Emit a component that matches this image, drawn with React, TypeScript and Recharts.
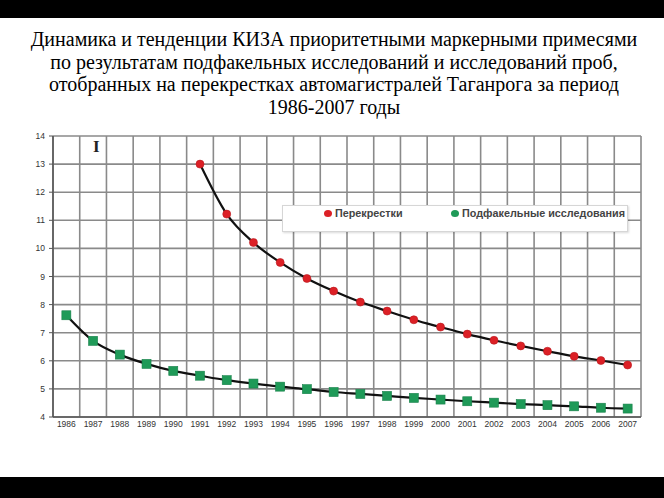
import { LineChart, Line, XAxis, YAxis, CartesianGrid, Legend } from 'recharts';

const years = [
  1986, 1987, 1988, 1989, 1990, 1991, 1992, 1993, 1994, 1995, 1996,
  1997, 1998, 1999, 2000, 2001, 2002, 2003, 2004, 2005, 2006, 2007,
];

// Перекрестки (no samples before 1991)
const crossroads = [
  null, null, null, null, null, 13.0, 11.22, 10.21, 9.5, 8.93, 8.48,
  8.09, 7.77, 7.46, 7.2, 6.95, 6.73, 6.53, 6.34, 6.16, 6.01, 5.85,
];

// Подфакельные исследования
const plume = [
  7.62, 6.71, 6.22, 5.89, 5.64, 5.47, 5.31, 5.19, 5.08, 4.99, 4.89,
  4.82, 4.75, 4.68, 4.62, 4.56, 4.51, 4.46, 4.42, 4.38, 4.33, 4.3,
];

const yTicks = [4, 5, 6, 7, 8, 9, 10, 11, 12, 13, 14];

const TITLE = [
  'Динамика и тенденции КИЗА приоритетными маркерными примесями',
  'по результатам подфакельных исследований и исследований проб,',
  'отобранных на перекрестках автомагистралей Таганрога за период',
  '1986-2007 годы',
];

const RED = '#dc2026';
const GREEN = '#1f9a58';
const GRID = '#8a8a8a';

const data = years.map((year, i) => ({
  year,
  crossroads: crossroads[i],
  plume: plume[i],
}));

// grid lines sit on the borders between years
const gridTicks = [...years.map((y) => y - 0.5), years[years.length - 1] + 0.5];
const domain: [number, number] = [gridTicks[0], gridTicks[gridTicks.length - 1]];

const GreenSquare = (props: any) => {
  const { cx, cy } = props;
  if (cx == null || cy == null) return null;
  return <rect x={cx - 4.5} y={cy - 4.5} width={9} height={9} fill={GREEN} stroke="#17804a" strokeWidth={0.6} />;
};

const LegendBox = () => (
  <div
    style={{
      width: 346,
      height: 27,
      background: '#fff',
      border: '1px solid #d6d6d6',
      boxShadow: '1px 1px 2px rgba(0,0,0,0.15)',
      boxSizing: 'border-box',
      fontFamily: '"Liberation Sans", Arial, sans-serif',
      fontWeight: 'bold',
      fontSize: 10.8,
      color: '#444',
      position: 'relative',
      whiteSpace: 'nowrap',
    }}
  >
    <div style={{ position: 'absolute', left: 41, top: 1, display: 'flex', alignItems: 'center' }}>
      <span style={{ width: 8, height: 7, borderRadius: '50%', background: RED, marginRight: 3 }} />
      Перекрестки
    </div>
    <div style={{ position: 'absolute', left: 168, top: 1, display: 'flex', alignItems: 'center' }}>
      <span style={{ width: 8, height: 7, borderRadius: '50%', background: GREEN, marginRight: 3 }} />
      Подфакельные исследования
    </div>
  </div>
);

export default function App() {
  return (
    <div
      style={{
        position: 'fixed',
        left: 0,
        top: 0,
        width: 664,
        height: 498,
        background: '#fff',
        overflow: 'hidden',
      }}
    >
      <div style={{ position: 'absolute', left: 0, top: 0, width: 664, height: 18, background: '#000' }} />
      <div style={{ position: 'absolute', left: 0, top: 477, width: 664, height: 21, background: '#000' }} />

      <div
        style={{
          position: 'absolute',
          left: 0,
          top: 28,
          width: 668,
          textAlign: 'center',
          fontFamily: '"Liberation Serif", "Times New Roman", serif',
          fontSize: 20,
          lineHeight: '22.5px',
          color: '#000',
        }}
      >
        {TITLE.map((line) => (
          <div key={line}>{line}</div>
        ))}
      </div>

      <div style={{ position: 'absolute', left: 0, top: 0 }}>
        <LineChart
          width={664}
          height={498}
          data={data}
          margin={{ top: 136, right: 23, bottom: 51, left: 23 }}
        >
          <CartesianGrid
            xAxisId="grid"
            stroke={GRID}
            strokeWidth={1.6}
            horizontalValues={yTicks}
          />
          <XAxis
            xAxisId="grid"
            dataKey="year"
            type="number"
            domain={domain}
            ticks={gridTicks}
            interval={0}
            height={0}
            hide
          />
          <XAxis
            xAxisId="lab"
            dataKey="year"
            type="number"
            domain={domain}
            ticks={years}
            interval={0}
            height={30}
            tickLine={false}
            tickSize={3}
            tickMargin={1}
            axisLine={{ stroke: '#555', strokeWidth: 1.5 }}
            tick={{ fontSize: 8.5, fill: '#333', fontFamily: '"Liberation Sans", Arial, sans-serif' }}
          />
          <YAxis
            type="number"
            domain={[4, 14]}
            ticks={yTicks}
            interval={0}
            width={30}
            tickSize={4}
            tickMargin={4}
            axisLine={{ stroke: '#555', strokeWidth: 1.5 }}
            tickLine={{ stroke: '#555' }}
            tick={{ fontSize: 8.5, fill: '#333', fontFamily: '"Liberation Sans", Arial, sans-serif' }}
          />
          <Legend
            verticalAlign="middle"
            align="center"
            layout="horizontal"
            content={() => <LegendBox />}
            wrapperStyle={{ position: 'absolute', left: 282, top: 205, width: 346, height: 27 }}
          />
          <Line
            xAxisId="lab"
            type="monotone"
            dataKey="plume"
            stroke="#111"
            strokeWidth={2.2}
            dot={<GreenSquare />}
            activeDot={false}
            isAnimationActive={false}
          />
          <Line
            xAxisId="lab"
            type="monotone"
            dataKey="crossroads"
            stroke="#111"
            strokeWidth={2.2}
            dot={{ r: 4, fill: RED, stroke: '#b81a1f', strokeWidth: 0.6 }}
            activeDot={false}
            isAnimationActive={false}
          />
        </LineChart>
      </div>

      <div
        style={{
          position: 'absolute',
          left: 93,
          top: 137,
          fontFamily: '"Liberation Serif", "Times New Roman", serif',
          fontWeight: 'bold',
          fontSize: 17,
          color: '#222',
        }}
      >
        I
      </div>
    </div>
  );
}
